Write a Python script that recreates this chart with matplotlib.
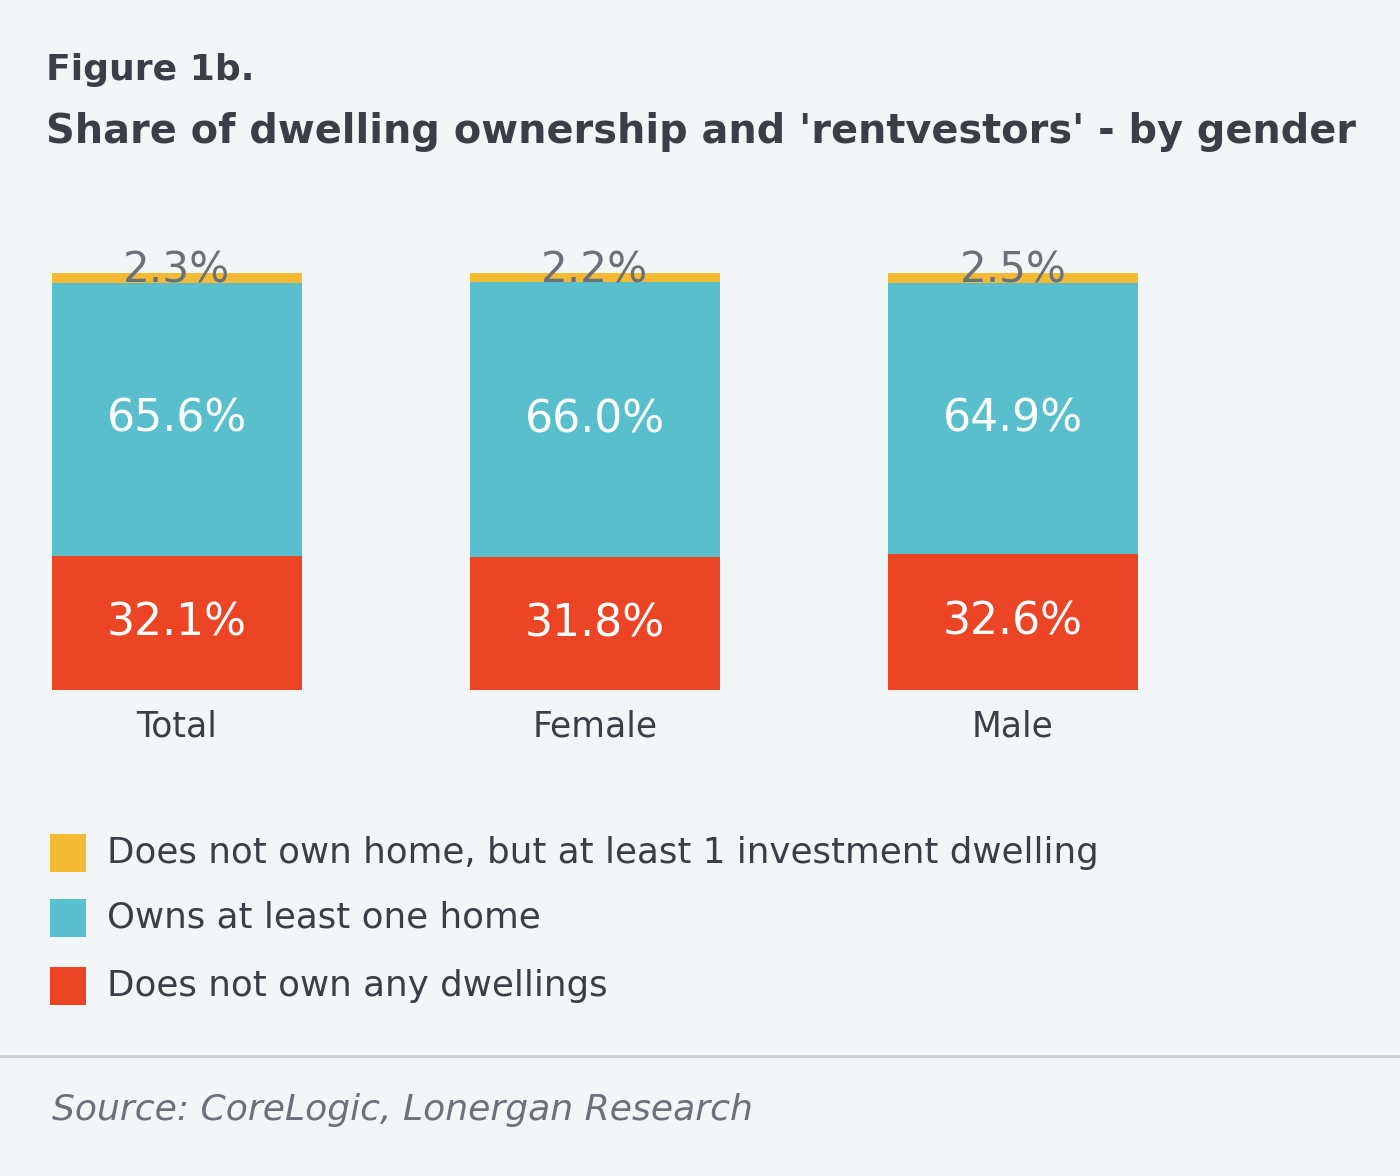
import matplotlib
matplotlib.use("Agg")
import matplotlib.pyplot as plt
from matplotlib.patches import Rectangle

# ---- data ----
categories = ["Total", "Female", "Male"]
no_dwelling = [32.1, 31.8, 32.6]
owns_home = [65.6, 66.0, 64.9]
rentvestor = [2.3, 2.2, 2.5]
series_labels = [
    "Does not own home, but at least 1 investment dwelling",
    "Owns at least one home",
    "Does not own any dwellings",
]
title_line1 = "Figure 1b."
title_line2 = "Share of dwelling ownership and 'rentvestors' - by gender"
source_text = "Source: CoreLogic, Lonergan Research"

# ---- style ----
BG = "#F2F6F6"
C_YEL = "#F4BA33"
C_TEAL = "#5ABFCC"
C_RED = "#EC4525"
C_TEXT = "#3A3F47"
C_GRAY = "#6B717A"
W, H = 1400, 1176
plt.rcParams["font.family"] = ["DejaVu Sans"]

fig = plt.figure(figsize=(W / 100, H / 100), dpi=100, facecolor=BG)
renderer = fig.canvas.get_renderer()


def fit(t, target_px):
    bb = t.get_window_extent(renderer)
    t.set_fontsize(t.get_fontsize() * target_px / bb.width)
    return t


def fx(px):
    return px / W


def fy(py):
    return 1 - py / H


unit = 418
base_px, top_px = 690, 273
ax = fig.add_axes([0, fy(base_px), 1, (base_px - top_px) / H])
ax.set_facecolor("none")
ax.set_xlim(-177 / unit, (W - 177) / unit)
ax.set_ylim(0, 100)
for s in ax.spines.values():
    s.set_visible(False)
ax.set_yticks([])

x = list(range(len(categories)))
bw = 250 / unit
b1 = ax.bar(x, no_dwelling, width=bw, color=C_RED, linewidth=0)
bottom2 = no_dwelling
b2 = ax.bar(x, owns_home, width=bw, bottom=bottom2, color=C_TEAL, linewidth=0)
bottom3 = [a + b for a, b in zip(no_dwelling, owns_home)]
b3 = ax.bar(x, rentvestor, width=bw, bottom=bottom3, color=C_YEL, linewidth=0)

lab_red = ax.bar_label(b1, labels=[f"{v:.1f}%" for v in no_dwelling],
                       label_type="center", color="white", fontsize=30)
lab_teal = ax.bar_label(b2, labels=[f"{v:.1f}%" for v in owns_home],
                        label_type="center", color="white", fontsize=30)
fit(lab_teal[0], 140)
vsize = lab_teal[0].get_fontsize()
for t in lab_red + lab_teal:
    t.set_fontsize(vsize)

tops = []
for xi, b, v in zip(x, bottom3, rentvestor):
    t = ax.annotate(f"{v:.1f}%", xy=(xi, b + v), xytext=(0, 2),
                    textcoords="offset points", ha="center", va="center",
                    color=C_GRAY, fontsize=vsize * 0.85, annotation_clip=False)
    tops.append(t)
fit(tops[0], 107)
for t in tops[1:]:
    t.set_fontsize(tops[0].get_fontsize())

ax.set_xticks(x)
ax.set_xticklabels(categories, color=C_TEXT, fontsize=20)
ax.tick_params(axis="x", length=0, pad=14)
fit(ax.get_xticklabels()[1], 125)
csize = ax.get_xticklabels()[1].get_fontsize()
for t in ax.get_xticklabels():
    t.set_fontsize(csize)

# ---- titles ----
t1 = fig.text(fx(46), fy(70), title_line1, ha="left", va="center",
              fontweight="bold", color=C_TEXT, fontsize=24)
fit(t1, 208)
t2 = fig.text(fx(46), fy(132), title_line2, ha="left", va="center",
              fontweight="bold", color=C_TEXT, fontsize=24)
fit(t2, 1311)

# ---- legend ----
leg_colors = [C_YEL, C_TEAL, C_RED]
leg_y = [853, 918, 986]
leg_texts = []
for c, lab, yy in zip(leg_colors, series_labels, leg_y):
    fig.patches.append(Rectangle((fx(50), fy(yy + 19)), fx(36), 38 / H,
                                 transform=fig.transFigure, color=c, linewidth=0))
    leg_texts.append(fig.text(fx(107), fy(yy), lab, ha="left", va="center",
                              color=C_TEXT, fontsize=20))
fit(leg_texts[0], 990)
for t in leg_texts[1:]:
    t.set_fontsize(leg_texts[0].get_fontsize())

# ---- separator and source ----
fig.add_artist(plt.Line2D([0, 1], [fy(1056), fy(1056)], transform=fig.transFigure,
                          color="#C9CFD2", linewidth=2))
src = fig.text(fx(52), fy(1110), source_text, ha="left", va="center",
               style="italic", color=C_GRAY, fontsize=20)
fit(src, 700)

fig.savefig("out.png", dpi=100, facecolor=BG)
